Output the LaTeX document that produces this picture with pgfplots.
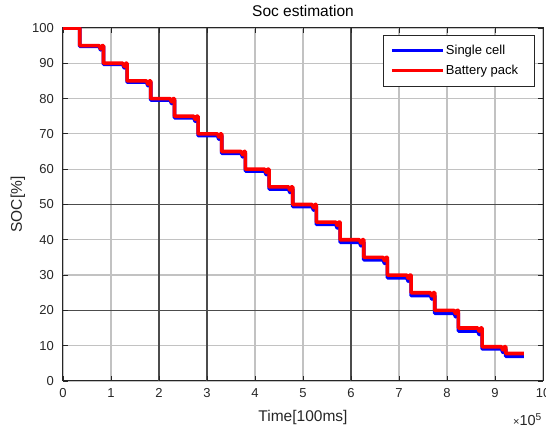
\documentclass[border=0pt]{standalone}
\usepackage{pgfplots}
\pgfplotsset{compat=1.18}
\usepackage{fontspec}
\setmainfont{Liberation Sans}

\definecolor{axisgray}{gray}{0.15}
\definecolor{gridlight}{gray}{0.76}
\definecolor{griddark}{gray}{0.30}

\begin{document}
\begin{tikzpicture}
\begin{axis}[
  name=main,
  scale only axis,
  width=480pt, height=353pt,
  xmin=0, xmax=1000000,
  ymin=0, ymax=100,
  xtick={0,100000,200000,300000,400000,500000,600000,700000,800000,900000,1000000},
  ytick={0,10,...,100},
  scaled x ticks=base 10:-5,
  xtick scale label code/.code={},
  /pgf/number format/assume math mode=true,
  tick label style={font=\fontsize{13}{15}\selectfont, text=axisgray, inner sep=0pt},
  xticklabel shift=7pt,
  yticklabel shift=9pt,
  tick align=inside,
  major tick length=5pt,
  tick style={axisgray, line width=0.8pt},
  axis line style={axisgray, line width=1pt},
  grid=major,
  major grid style={gridlight, line width=1.2pt},
  extra x ticks={200000,300000,600000},
  extra x tick labels={},
  extra x tick style={major grid style={griddark, line width=1.3pt}},
  extra y ticks={20,50},
  extra y tick labels={},
  extra y tick style={major grid style={griddark, line width=1.3pt}},
  title={Soc estimation},
  title style={at={(axis description cs:0.5,1)}, anchor=base, yshift=5pt,
    font=\fontsize{15.5}{18}\selectfont, text=black},
  xlabel={Time[100ms]},
  xlabel style={at={(axis description cs:0.5,0)}, anchor=base, yshift=-41pt,
    font=\fontsize{15.5}{18}\selectfont, text=axisgray},
  ylabel={SOC[\%]},
  ylabel style={at={(axis description cs:-0.094,0.5)}, anchor=center,
    font=\fontsize{15.5}{18}\selectfont, text=axisgray},
  legend style={at={(axis description cs:1,1)}, anchor=north east,
    xshift=-8pt, yshift=-7pt, draw=axisgray, line width=0.6pt, fill=white,
    font=\fontsize{13}{15}\selectfont, inner xsep=7pt, inner ysep=8pt,
    row sep=5pt, nodes={inner xsep=1.5pt, inner ysep=2pt}},
  legend cell align=left,
  legend image code/.code={\draw[#1, line width=3pt] (0pt,0pt) -- (51pt,0pt);},
]

% single cell estimate
\addplot[blue, line width=3.6pt, line join=round] coordinates {
(0,100) (35000,100)
(35000,94.8) (75300,94.8) (78300,93.8) (81300,94.8) (84300,94.8)
(84300,89.7) (124600,89.7) (127600,88.7) (130600,89.7) (133600,89.7)
(133600,84.65) (173900,84.65) (176900,83.65) (179900,84.65) (182900,84.65)
(182900,79.6) (223200,79.6) (226200,78.6) (229200,79.6) (232200,79.6)
(232200,74.55) (272500,74.55) (275500,73.55) (278500,74.55) (281500,74.55)
(281500,69.5) (321800,69.5) (324800,68.5) (327800,69.5) (330800,69.5)
(330800,64.5) (371100,64.5) (374100,63.5) (377100,64.5) (380100,64.5)
(380100,59.45) (420400,59.45) (423400,58.45) (426400,59.45) (429400,59.45)
(429400,54.4) (469700,54.4) (472700,53.4) (475700,54.4) (478700,54.4)
(478700,49.4) (519000,49.4) (522000,48.4) (525000,49.4) (528000,49.4)
(528000,44.35) (568300,44.35) (571300,43.35) (574300,44.35) (577300,44.35)
(577300,39.3) (617600,39.3) (620600,38.3) (623600,39.3) (626600,39.3)
(626600,34.3) (666900,34.3) (669900,33.3) (672900,34.3) (675900,34.3)
(675900,29.25) (716200,29.25) (719200,28.25) (722200,29.25) (725200,29.25)
(725200,24.2) (765500,24.2) (768500,23.2) (771500,24.2) (774500,24.2)
(774500,19.2) (814800,19.2) (817800,18.2) (820800,19.2) (823800,19.2)
(823800,14.15) (864100,14.15) (867100,13.15) (870100,14.15) (873100,14.15)
(873100,9.1) (913400,9.1) (916400,8.1) (919400,9.1) (922400,9.1)
(922400,7.0) (960000,7.0)
};
\addlegendentry{Single cell}

% battery pack estimate
\addplot[red, line width=3.6pt, line join=round] coordinates {
(0,100) (35000,100)
(35000,95) (75300,95) (78300,94.1) (81300,95) (84300,95)
(84300,90) (124600,90) (127600,89.1) (130600,90) (133600,90)
(133600,85) (173900,85) (176900,84.1) (179900,85) (182900,85)
(182900,80) (223200,80) (226200,79.1) (229200,80) (232200,80)
(232200,75) (272500,75) (275500,74.1) (278500,75) (281500,75)
(281500,70) (321800,70) (324800,69.1) (327800,70) (330800,70)
(330800,65) (371100,65) (374100,64.1) (377100,65) (380100,65)
(380100,60) (420400,60) (423400,59.1) (426400,60) (429400,60)
(429400,55) (469700,55) (472700,54.1) (475700,55) (478700,55)
(478700,50) (519000,50) (522000,49.1) (525000,50) (528000,50)
(528000,45) (568300,45) (571300,44.1) (574300,45) (577300,45)
(577300,40) (617600,40) (620600,39.1) (623600,40) (626600,40)
(626600,35) (666900,35) (669900,34.1) (672900,35) (675900,35)
(675900,30) (716200,30) (719200,29.1) (722200,30) (725200,30)
(725200,25) (765500,25) (768500,24.1) (771500,25) (774500,25)
(774500,20) (814800,20) (817800,19.1) (820800,20) (823800,20)
(823800,15) (864100,15) (867100,14.1) (870100,15) (873100,15)
(873100,9.7) (913400,9.7) (916400,8.8) (919400,9.7) (922400,9.7)
(922400,7.8) (960000,7.8)
};
\addlegendentry{Battery pack\hspace{8pt}\mbox{}}
\end{axis}
% power-of-ten factor of the time axis
\node[anchor=base east, inner sep=0pt, text=axisgray, font=\fontsize{14.5}{16}\selectfont]
  at ([shift={(-1pt,-45pt)}]main.south east)
  {{\fontsize{11}{12}\selectfont ×}10\textsuperscript{5}};
\pgfresetboundingbox
\path[use as bounding box] ([shift={(-63pt,-47pt)}]main.south west)
  rectangle ([shift={(3pt,28pt)}]main.north east);
\end{tikzpicture}
\end{document}
